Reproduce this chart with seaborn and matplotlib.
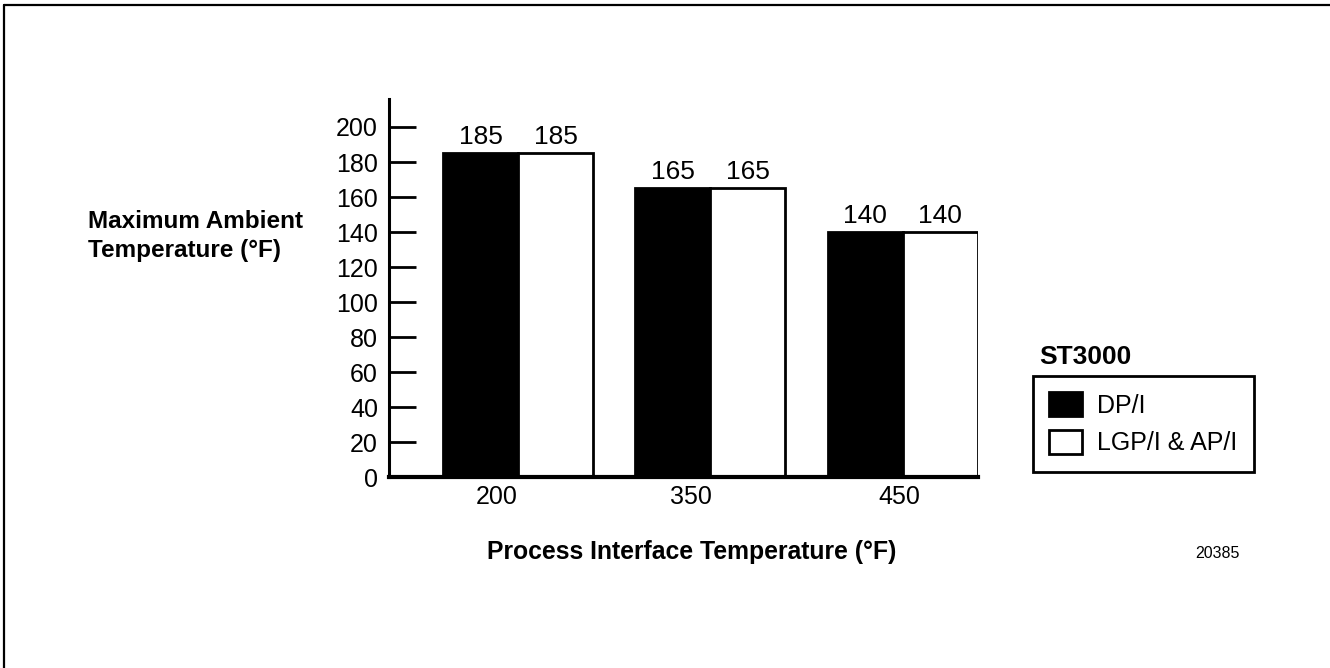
import matplotlib
matplotlib.use("Agg")
import matplotlib.pyplot as plt
from matplotlib.lines import Line2D
import seaborn as sns
import pandas as pd

# ---- data ----
process_temps = ["200", "350", "450"]
series_names = ["DP/I", "LGP/I & AP/I"]
dpi_values = [185, 165, 140]
lgp_values = [185, 165, 140]
y_ticks = [0, 20, 40, 60, 80, 100, 120, 140, 160, 180, 200]
legend_title = "ST3000"
figure_id = "20385"

df = pd.DataFrame({
    "process": process_temps * 2,
    "ambient": dpi_values + lgp_values,
    "model": [series_names[0]] * 3 + [series_names[1]] * 3,
})

sns.set_style("white")
plt.rcParams["font.family"] = ["Liberation Sans", "DejaVu Sans"]
plt.rcParams["text.color"] = "black"
plt.rcParams["axes.labelcolor"] = "black"
plt.rcParams["xtick.color"] = "black"
plt.rcParams["ytick.color"] = "black"

fig = plt.figure(figsize=(13.3, 6.68), dpi=100)
ax = fig.add_axes([0.2925, 0.2859, 0.4428, 0.5659])

sns.barplot(data=df, x="process", y="ambient", hue="model",
            palette=["black", "white"], edgecolor="black", linewidth=2,
            width=0.78, saturation=1, ax=ax, legend=False, errorbar=None)

ax.set_ylim(0, 216)
ax.set_xlim(-0.67, 2.39)
ax.set_yticks(y_ticks)
ax.set_yticklabels([str(v) for v in y_ticks], fontsize=18)
ax.tick_params(axis="y", direction="in", length=19.5, width=2, pad=8, left=True)
ax.tick_params(axis="x", length=0, pad=6)
# tick label offsets relative to group centres (as in the reference drawing)
label_offsets = [-0.11, -0.10, -0.02]
ax.set_xticks([i + o for i, o in enumerate(label_offsets)])
ax.set_xticklabels(process_temps, fontsize=18)

for side in ["top", "right"]:
    ax.spines[side].set_visible(False)
ax.spines["left"].set_linewidth(2.2)
ax.spines["bottom"].set_linewidth(3)
ax.spines["left"].set_color("black")
ax.spines["bottom"].set_color("black")

for cont in ax.containers:
    ax.bar_label(cont, padding=3, fontsize=19, color="black")

ax.set_xlabel("")
ax.set_ylabel("")

fig.text(88 / 1330, 1 - 236 / 668, "Maximum Ambient\nTemperature (°F)",
         fontsize=17.5, fontweight="bold", ha="left", va="center", linespacing=1.3)
fig.text(692 / 1330, 1 - 552 / 668, "Process Interface Temperature (°F)",
         fontsize=17.8, fontweight="bold", ha="center", va="center")
fig.text(1217 / 1330, 1 - 553 / 668, figure_id, fontsize=11.5, ha="center", va="center")
fig.text(1039 / 1330, 1 - 357 / 668, legend_title, fontsize=19, fontweight="bold",
         ha="left", va="center")

handles = [ax.containers[0].patches[0], ax.containers[1].patches[0]]
leg = fig.legend(handles, series_names, loc="upper left",
                 bbox_to_anchor=(1033 / 1330, 1 - 376 / 668),
                 fontsize=18, frameon=True, fancybox=False, edgecolor="black",
                 framealpha=1, handlelength=1.32, handleheight=1.08,
                 handletextpad=0.6, labelspacing=0.5, borderpad=0.65,
                 borderaxespad=0)
leg.get_frame().set_linewidth(2)

# figure frame (top and left edges)
fig.add_artist(Line2D([4 / 1330, 4 / 1330], [0, 1 - 5 / 668], color="black", lw=1.6))
fig.add_artist(Line2D([4 / 1330, 1], [1 - 5 / 668, 1 - 5 / 668], color="black", lw=1.6))

fig.savefig("out.png", dpi=100)
